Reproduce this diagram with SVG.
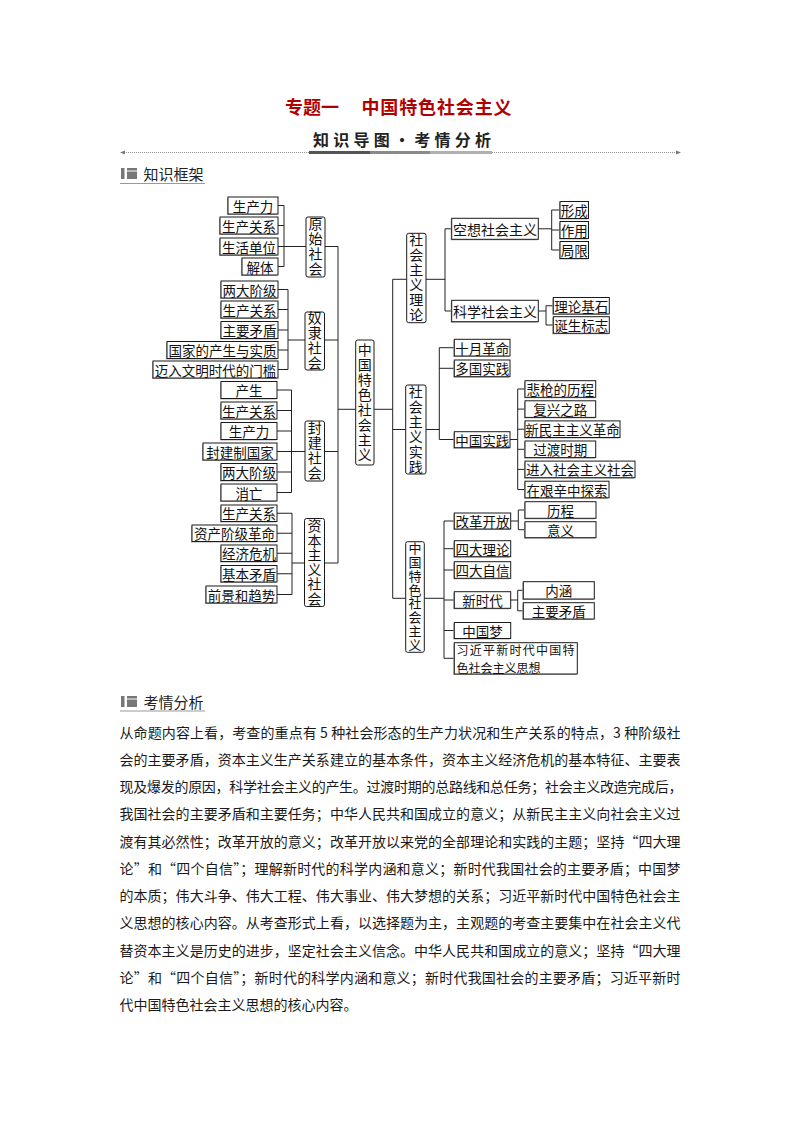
<svg xmlns="http://www.w3.org/2000/svg" width="794" height="1123" viewBox="0 0 794 1123">
<style>
.bg{fill:#fff}
.box{fill:#fff;stroke:#1a1a1a;stroke-width:1}
.vbox{fill:#fff;stroke:#1a1a1a;stroke-width:1}
.sh{fill:#ababab}
.t{font-family:"Noto Sans CJK SC","Noto Sans CJK TC",sans-serif;font-size:13.5px;fill:#111;text-anchor:middle;dominant-baseline:central}
.tl{font-family:"Noto Sans CJK SC",sans-serif;font-size:12px;fill:#111;dominant-baseline:central}
.vt{font-family:"Noto Sans CJK SC",sans-serif;font-size:14px;fill:#111;text-anchor:middle;writing-mode:vertical-rl;letter-spacing:1px}
.vt13{font-family:"Noto Sans CJK SC",sans-serif;font-size:13px;fill:#111;text-anchor:middle;writing-mode:vertical-rl;letter-spacing:0.8px}
.c{fill:none;stroke:#222;stroke-width:1}
.p{font-family:"Noto Sans CJK SC",sans-serif;font-size:14px;fill:#1a1a1a}
.h{font-family:"Noto Sans CJK SC",sans-serif;font-size:15px;fill:#222}
</style>
<rect class="bg" x="0" y="0" width="794" height="1123"/>

<g id="header">
  <text x="285" y="114" font-family="Noto Sans CJK SC, sans-serif" font-size="18" font-weight="bold" fill="#b00000">专题一</text>
  <text x="361.5" y="114" font-family="Noto Sans CJK SC, sans-serif" font-size="18" font-weight="bold" fill="#b00000" textLength="150" lengthAdjust="spacing">中国特色社会主义</text>
  <text x="313" y="146" font-family="Noto Sans CJK SC, sans-serif" font-size="16" font-weight="bold" fill="#222" textLength="178" lengthAdjust="spacing">知识导图·考情分析</text>
  <line x1="124" y1="152.5" x2="677" y2="152.5" stroke="#777" stroke-width="0.8" stroke-dasharray="1 1"/>
  <polygon points="120,152.5 125,150.5 125,154.5" fill="#777"/>
  <polygon points="681,152.5 676,150.5 676,154.5" fill="#777"/>
  <rect x="309" y="151" width="61" height="3" fill="#555"/>
  <rect x="370" y="151" width="60" height="3" fill="#8a8a8a"/>
  <rect x="430" y="151" width="62" height="3" fill="#b0b0b0"/>
</g>

<g id="sec1">
  <rect x="121" y="168" width="3.5" height="11" fill="#777"/>
  <rect x="127" y="168" width="10" height="11" fill="#777"/>
  <rect x="127" y="170.5" width="10" height="1" fill="#fff"/>
  <text class="h" x="143.5" y="179.5">知识框架</text>
  <line x1="120" y1="183.5" x2="205" y2="183.5" stroke="#999" stroke-width="1.2"/>
</g>

<g id="connectors">
  <path class="c" d="M278 205.5H284M278 225.5H284M278 246.5H306M278 266.5H284M284 205.5V266.5M325 246.5H338"/>
  <path class="c" d="M278 289.5H288M278 309.5H288M278 330H288M278 350H288M278 369.5H288M288 289.5V369.5M288 340H305M324.5 340H338"/>
  <path class="c" d="M277 390H291.5M277 410.5H291.5M277 431H291.5M277 451.5H305M277 472H291.5M277 492.5H291.5M291.5 390V492.5M324.5 451.5H338"/>
  <path class="c" d="M277 513.25H292M277 533.25H292M277 553.25H292M277 573.75H292M277 594.5H292M292 513.25V594.5M292 563H304.5M324.5 563H338"/>
  <path class="c" d="M338 246.5V563M338 409.3H355.7"/>
  <path class="c" d="M374 409.3H392.7M392.7 279.3V598.3M392.7 279.3H406.7M392.7 429.5H405.7M392.7 598.3H405.7"/>
  <path class="c" d="M426 279.3H445M445 228.8V311M445 228.8H451.7M445 311H451.7"/>
  <path class="c" d="M538.3 228.8H551.7M551.7 210V250M551.7 210H560M551.7 230H560M551.7 250H560"/>
  <path class="c" d="M538.3 311H546M546 305.75V325M546 305.75H553.3M546 325H553.3"/>
  <path class="c" d="M426 429.5H439.3M439.3 347.7V439.5M439.3 347.7H454.3M439.3 368.3H454.3M439.3 439.5H454.3"/>
  <path class="c" d="M510 439.5H517.7M517.7 389V489.5M517.7 389H525M517.7 409.1H525M517.7 429.2H525M517.7 449.3H525M517.7 469.4H525M517.7 489.5H525"/>
  <path class="c" d="M424.3 598.3H444M444 521V658.3M444 521H454.3M444 548.7H454.3M444 570H454.3M444 600H454.3M444 630.5H454.3M444 658.3H454.3"/>
  <path class="c" d="M510.7 521H518.3M518.3 510V529.7M518.3 510H525M518.3 529.7H525"/>
  <path class="c" d="M510.7 600H517.7M517.7 590.3V610.8M517.7 590.3H523.3M517.7 610.8H523.3"/>
</g>

<!-- 原始社会 -->
<g id="ys-scl"><rect class="sh" x="227" y="198" width="50" height="17"/><rect class="box" x="228" y="197" width="50" height="17"/><text class="t" x="253" y="205.5">生产力</text></g>
<g id="ys-scgx"><rect class="sh" x="219" y="218" width="58" height="17"/><rect class="box" x="220" y="217" width="58" height="17"/><text class="t" x="249" y="225.5">生产关系</text></g>
<g id="ys-shdw"><rect class="sh" x="219" y="239" width="58" height="17"/><rect class="box" x="220" y="238" width="58" height="17"/><text class="t" x="249" y="246.5">生活单位</text></g>
<g id="ys-jt"><rect class="sh" x="241" y="259" width="36" height="17"/><rect class="box" x="242" y="258" width="36" height="17"/><text class="t" x="260" y="266.5">解体</text></g>
<g id="ysshehui"><rect class="vbox" x="306" y="217" width="19" height="60" rx="2"/><text class="vt" x="315.5" y="247">原始社会</text></g>

<!-- 奴隶社会 -->
<g id="nl-ldjj"><rect class="sh" x="220" y="282" width="57" height="17"/><rect class="box" x="221" y="281" width="57" height="17"/><text class="t" x="249.5" y="289.5">两大阶级</text></g>
<g id="nl-scgx"><rect class="sh" x="220" y="302" width="57" height="17"/><rect class="box" x="221" y="301" width="57" height="17"/><text class="t" x="249.5" y="309.5">生产关系</text></g>
<g id="nl-zymd"><rect class="sh" x="220" y="322.5" width="57" height="17"/><rect class="box" x="221" y="321.5" width="57" height="17"/><text class="t" x="249.5" y="330">主要矛盾</text></g>
<g id="nl-gj"><rect class="sh" x="166" y="342.5" width="111" height="17"/><rect class="box" x="167" y="341.5" width="111" height="17"/><text class="t" x="222.5" y="350">国家的产生与实质</text></g>
<g id="nl-mr"><rect class="sh" x="152" y="362" width="125" height="17"/><rect class="box" x="153" y="361" width="125" height="17"/><text class="t" x="215.5" y="369.5">迈入文明时代的门槛</text></g>
<g id="nlshehui"><rect class="vbox" x="305" y="312" width="19.5" height="58" rx="2"/><text class="vt" x="314.75" y="341">奴隶社会</text></g>

<!-- 封建社会 -->
<g id="fj-cs"><rect class="sh" x="220" y="382.5" width="56" height="17"/><rect class="box" x="221" y="381.5" width="56" height="17"/><text class="t" x="249" y="390">产生</text></g>
<g id="fj-scgx"><rect class="sh" x="220" y="403" width="56" height="17"/><rect class="box" x="221" y="402" width="56" height="17"/><text class="t" x="249" y="410.5">生产关系</text></g>
<g id="fj-scl"><rect class="sh" x="220" y="423.5" width="56" height="17"/><rect class="box" x="221" y="422.5" width="56" height="17"/><text class="t" x="249" y="431">生产力</text></g>
<g id="fj-gj"><rect class="sh" x="202" y="444" width="74" height="17"/><rect class="box" x="203" y="443" width="74" height="17"/><text class="t" x="240" y="451.5">封建制国家</text></g>
<g id="fj-ldjj"><rect class="sh" x="220" y="464.5" width="56" height="17"/><rect class="box" x="221" y="463.5" width="56" height="17"/><text class="t" x="249" y="472">两大阶级</text></g>
<g id="fj-xw"><rect class="sh" x="220" y="485" width="56" height="17"/><rect class="box" x="221" y="484" width="56" height="17"/><text class="t" x="249" y="492.5">消亡</text></g>
<g id="fjshehui"><rect class="vbox" x="305" y="421" width="19.5" height="60" rx="2"/><text class="vt" x="314.75" y="451">封建社会</text></g>

<!-- 资本主义社会 -->
<g id="zb-scgx"><rect class="sh" x="220" y="506" width="56" height="16.5"/><rect class="box" x="221" y="505" width="56" height="16.5"/><text class="t" x="249" y="513.25">生产关系</text></g>
<g id="zb-gm"><rect class="sh" x="191" y="526" width="85" height="16.5"/><rect class="box" x="192" y="525" width="85" height="16.5"/><text class="t" x="234.5" y="533.25">资产阶级革命</text></g>
<g id="zb-wj"><rect class="sh" x="220" y="546" width="56" height="16.5"/><rect class="box" x="221" y="545" width="56" height="16.5"/><text class="t" x="249" y="553.25">经济危机</text></g>
<g id="zb-md"><rect class="sh" x="220" y="566.5" width="56" height="16.5"/><rect class="box" x="221" y="565.5" width="56" height="16.5"/><text class="t" x="249" y="573.75">基本矛盾</text></g>
<g id="zb-qj"><rect class="sh" x="205" y="587" width="71" height="17"/><rect class="box" x="206" y="586" width="71" height="17"/><text class="t" x="241.5" y="594.5">前景和趋势</text></g>
<g id="zbshehui"><rect class="vbox" x="304.5" y="518.5" width="20" height="88" rx="2"/><text class="vt" x="314.5" y="562.5" style="letter-spacing:0.5px">资本主义社会</text></g>

<!-- 中心 -->
<g id="center"><rect class="vbox" x="355.7" y="340" width="18.3" height="125" rx="2"/><text class="vt" x="364.85" y="402.5">中国特色社会主义</text></g>

<!-- 社会主义理论 -->
<g id="shzyll"><rect class="vbox" x="406.7" y="233.3" width="19.3" height="89.4" rx="2"/><text class="vt" x="416.35" y="278">社会主义理论</text></g>
<g id="kx"><rect class="sh" x="450.7" y="219.3" width="86.6" height="21"/><rect class="box" x="451.7" y="218.3" width="86.6" height="21"/><text class="t" x="495" y="228.8" style="font-size:14px">空想社会主义</text></g>
<g id="kxue"><rect class="sh" x="450.7" y="301.3" width="86.6" height="21.4"/><rect class="box" x="451.7" y="300.3" width="86.6" height="21.4"/><text class="t" x="495" y="311" style="font-size:14px">科学社会主义</text></g>
<g id="kx-xc"><rect class="sh" x="559" y="202.5" width="28.5" height="17"/><rect class="box" x="560" y="201.5" width="28.5" height="17"/><text class="t" x="574.25" y="210">形成</text></g>
<g id="kx-zy"><rect class="sh" x="559" y="222.5" width="28.5" height="17"/><rect class="box" x="560" y="221.5" width="28.5" height="17"/><text class="t" x="574.25" y="230">作用</text></g>
<g id="kx-jx"><rect class="sh" x="559" y="242.5" width="28.5" height="17"/><rect class="box" x="560" y="241.5" width="28.5" height="17"/><text class="t" x="574.25" y="250">局限</text></g>
<g id="kxue-jc"><rect class="sh" x="552.3" y="298.5" width="56" height="16.5"/><rect class="box" x="553.3" y="297.5" width="56" height="16.5"/><text class="t" x="581.3" y="305.75">理论基石</text></g>
<g id="kxue-bz"><rect class="sh" x="552.3" y="317.7" width="56" height="16.6"/><rect class="box" x="553.3" y="316.7" width="56" height="16.6"/><text class="t" x="581.3" y="325">诞生标志</text></g>

<!-- 社会主义实践 -->
<g id="shzysj"><rect class="vbox" x="405.7" y="385" width="20.3" height="89" rx="2"/><text class="vt" x="415.85" y="429.5">社会主义实践</text></g>
<g id="sy"><rect class="sh" x="453.3" y="340.3" width="55.7" height="16.7"/><rect class="box" x="454.3" y="339.3" width="55.7" height="16.7"/><text class="t" x="482.15" y="347.65">十月革命</text></g>
<g id="dg"><rect class="sh" x="453.3" y="361" width="55.7" height="16.7"/><rect class="box" x="454.3" y="360" width="55.7" height="16.7"/><text class="t" x="482.15" y="368.35">多国实践</text></g>
<g id="zgsj"><rect class="sh" x="453.3" y="432.7" width="55.7" height="16"/><rect class="box" x="454.3" y="431.7" width="55.7" height="16"/><text class="t" x="482.15" y="439.7">中国实践</text></g>
<g id="zg-1"><rect class="sh" x="524" y="381.7" width="70.7" height="16.6"/><rect class="box" x="525" y="380.7" width="70.7" height="16.6"/><text class="t" x="560.35" y="389">悲枪的历程</text></g>
<g id="zg-2"><rect class="sh" x="524" y="401.8" width="70.7" height="16.6"/><rect class="box" x="525" y="400.8" width="70.7" height="16.6"/><text class="t" x="560.35" y="409.1">复兴之路</text></g>
<g id="zg-3"><rect class="sh" x="524" y="421.9" width="95" height="16.6"/><rect class="box" x="525" y="420.9" width="95" height="16.6"/><text class="t" x="572.5" y="429.2">新民主主义革命</text></g>
<g id="zg-4"><rect class="sh" x="524" y="442" width="70.7" height="16.6"/><rect class="box" x="525" y="441" width="70.7" height="16.6"/><text class="t" x="560.35" y="449.3">过渡时期</text></g>
<g id="zg-5"><rect class="sh" x="524" y="462.1" width="110" height="16.6"/><rect class="box" x="525" y="461.1" width="110" height="16.6"/><text class="t" x="580" y="469.4">进入社会主义社会</text></g>
<g id="zg-6"><rect class="sh" x="524" y="482.2" width="84" height="16.6"/><rect class="box" x="525" y="481.2" width="84" height="16.6"/><text class="t" x="567" y="489.5">在艰辛中探索</text></g>

<!-- 中国特色社会主义（右） -->
<g id="zgts"><rect class="vbox" x="405.7" y="541.7" width="18.6" height="110.6" rx="2"/><text class="vt13" x="415" y="597">中国特色社会主义</text></g>
<g id="ggkf"><rect class="sh" x="453.3" y="514" width="56.4" height="16"/><rect class="box" x="454.3" y="513" width="56.4" height="16"/><text class="t" x="482.5" y="521">改革开放</text></g>
<g id="sdll"><rect class="sh" x="453.3" y="541.7" width="56.4" height="16"/><rect class="box" x="454.3" y="540.7" width="56.4" height="16"/><text class="t" x="482.5" y="548.7">四大理论</text></g>
<g id="sdzx"><rect class="sh" x="453.3" y="562.7" width="56.4" height="16.6"/><rect class="box" x="454.3" y="561.7" width="56.4" height="16.6"/><text class="t" x="482.5" y="570">四大自信</text></g>
<g id="xsd"><rect class="sh" x="453.3" y="592.7" width="56.4" height="16.6"/><rect class="box" x="454.3" y="591.7" width="56.4" height="16.6"/><text class="t" x="482.5" y="600">新时代</text></g>
<g id="zgm"><rect class="sh" x="453.3" y="623.5" width="56.4" height="16"/><rect class="box" x="454.3" y="622.5" width="56.4" height="16"/><text class="t" x="482.5" y="630.5">中国梦</text></g>
<g id="xjp"><rect class="sh" x="453.3" y="643.7" width="123" height="31.3"/><rect class="box" x="454.3" y="642.7" width="123" height="31.3"/><text class="tl" x="456.5" y="649.2" textLength="118" lengthAdjust="spacing">习近平新时代中国特</text><text class="tl" x="456.5" y="667">色社会主义思想</text></g>
<g id="gg-lc"><rect class="sh" x="524" y="502.7" width="71" height="16.6"/><rect class="box" x="525" y="501.7" width="71" height="16.6"/><text class="t" x="560.5" y="510">历程</text></g>
<g id="gg-yy"><rect class="sh" x="524" y="522.7" width="71" height="16"/><rect class="box" x="525" y="521.7" width="71" height="16"/><text class="t" x="560.5" y="529.7">意义</text></g>
<g id="xsd-nh"><rect class="sh" x="522.3" y="582.7" width="71" height="17.3"/><rect class="box" x="523.3" y="581.7" width="71" height="17.3"/><text class="t" x="558.8" y="590.3">内涵</text></g>
<g id="xsd-md"><rect class="sh" x="522.3" y="603.7" width="71" height="16.3"/><rect class="box" x="523.3" y="602.7" width="71" height="16.3"/><text class="t" x="558.8" y="610.85">主要矛盾</text></g>

<g id="sec2">
  <rect x="121" y="696" width="3.5" height="11" fill="#777"/>
  <rect x="127" y="696" width="10" height="11" fill="#777"/>
  <rect x="127" y="698.5" width="10" height="1" fill="#fff"/>
  <text class="h" x="143.5" y="707.5">考情分析</text>
  <line x1="120" y1="711" x2="205" y2="711" stroke="#999" stroke-width="1.2"/>
</g>

<g id="analysis">
  <text class="p" x="119.5" y="737.5" textLength="561" lengthAdjust="spacing">从命题内容上看，考查的重点有 5 种社会形态的生产力状况和生产关系的特点，3 种阶级社</text>
  <text class="p" x="119.5" y="764.8" textLength="561" lengthAdjust="spacing">会的主要矛盾，资本主义生产关系建立的基本条件，资本主义经济危机的基本特征、主要表</text>
  <text class="p" x="119.5" y="792" textLength="563" lengthAdjust="spacing">现及爆发的原因，科学社会主义的产生。过渡时期的总路线和总任务；社会主义改造完成后，</text>
  <text class="p" x="119.5" y="819.3" textLength="561" lengthAdjust="spacing">我国社会的主要矛盾和主要任务；中华人民共和国成立的意义；从新民主主义向社会主义过</text>
  <text class="p" x="119.5" y="846.6" textLength="561" lengthAdjust="spacing">渡有其必然性；改革开放的意义；改革开放以来党的全部理论和实践的主题；坚持“四大理</text>
  <text class="p" x="119.5" y="873.9" textLength="561" lengthAdjust="spacing">论”和“四个自信”；理解新时代的科学内涵和意义；新时代我国社会的主要矛盾；中国梦</text>
  <text class="p" x="119.5" y="901.1" textLength="561" lengthAdjust="spacing">的本质；伟大斗争、伟大工程、伟大事业、伟大梦想的关系；习近平新时代中国特色社会主</text>
  <text class="p" x="119.5" y="928.4" textLength="561" lengthAdjust="spacing">义思想的核心内容。从考查形式上看，以选择题为主，主观题的考查主要集中在社会主义代</text>
  <text class="p" x="119.5" y="955.7" textLength="561" lengthAdjust="spacing">替资本主义是历史的进步，坚定社会主义信念。中华人民共和国成立的意义；坚持“四大理</text>
  <text class="p" x="119.5" y="983" textLength="561" lengthAdjust="spacing">论”和“四个自信”；新时代的科学内涵和意义；新时代我国社会的主要矛盾；习近平新时</text>
  <text class="p" x="119.5" y="1010.2">代中国特色社会主义思想的核心内容。</text>
</g>
</svg>
